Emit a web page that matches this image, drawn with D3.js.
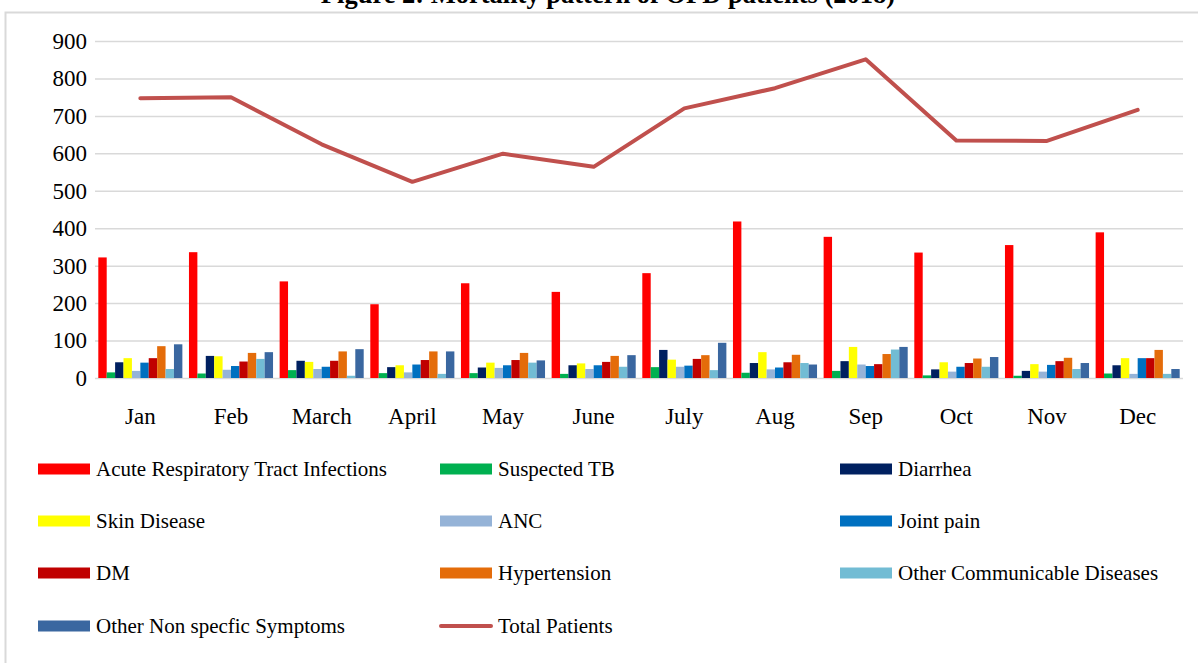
<!DOCTYPE html>
<html>
<head>
<meta charset="utf-8">
<script src="https://cdn.jsdelivr.net/npm/d3@7"></script>
<style>
  html, body { margin: 0; padding: 0; background: #fff; }
  svg { display: block; font-family: "Liberation Serif", "Times New Roman", serif; }
</style>
</head>
<body>
<svg id="chart" width="1198" height="663"></svg>
<script>
// months and series
let months = ["Jan", "Feb", "March", "April", "May", "June", "July", "Aug", "Sep", "Oct", "Nov", "Dec"];
let seriesNames = ["Acute Respiratory Tract Infections", "Suspected TB", "Diarrhea", "Skin Disease", "ANC",
    "Joint pain", "DM", "Hypertension", "Other Communicable Diseases", "Other Non specfic Symptoms"];
let seriesColors = ["#ff0000", "#00b050", "#002060", "#ffff00", "#95b3d7",
    "#0070c0", "#c00000", "#e46c0a", "#72bcd4", "#3a67a0"];

let ari      = [322, 336, 258, 197, 253, 230, 280, 418, 377, 335, 355, 389];
let tb       = [15, 12, 21, 13, 13, 11, 29, 14, 19, 7, 6, 12];
let diarrhea = [42, 59, 46, 29, 28, 34, 75, 40, 45, 23, 19, 34];
let skin     = [53, 58, 43, 34, 41, 39, 49, 69, 83, 42, 37, 53];
let anc      = [19, 22, 24, 15, 27, 24, 30, 23, 36, 17, 17, 11];
let joint    = [41, 32, 30, 36, 34, 34, 33, 28, 32, 30, 35, 53];
let dm       = [53, 44, 46, 48, 48, 43, 51, 42, 37, 40, 45, 53];
let htn      = [85, 67, 71, 71, 67, 59, 61, 62, 64, 52, 54, 75];
let ocd      = [24, 51, 6, 11, 41, 30, 21, 40, 76, 30, 24, 11];
let ons      = [90, 69, 77, 71, 47, 61, 94, 36, 83, 56, 40, 24];
let total    = [747, 750, 624, 524, 599, 564, 720, 774, 851, 634, 633, 716];

let yTicks = [0, 100, 200, 300, 400, 500, 600, 700, 800, 900];
let title = "Figure 2: Mortality pattern of OPD patients (2018)";
let lineName = "Total Patients", lineColor = "#c0504d";

let seriesValues = [ari, tb, diarrhea, skin, anc, joint, dm, htn, ocd, ons];

let svg = d3.select("#chart");
let plotLeft = 95, plotRight = 1183, plotTop = 41, plotBottom = 378;

// chart frame
svg.append("rect")
    .attr("x", 5.5).attr("y", 12.5)
    .attr("width", 1220).attr("height", 700)
    .attr("fill", "none")
    .attr("stroke", "#d9d9d9")
    .attr("stroke-width", 2);

// title sits mostly above the page edge, as in the source
svg.append("text")
    .attr("x", 608).attr("y", 3)
    .attr("text-anchor", "middle")
    .style("font-weight", "bold")
    .style("font-size", "26.5px")
    .text(title);

let x0 = d3.scaleBand().domain(months).range([plotLeft, plotRight]);
let x1 = d3.scaleBand().domain(d3.range(seriesNames.length))
    .range([3.3, x0.bandwidth() - 3.3]);
let y = d3.scaleLinear().domain([0, 900]).range([plotBottom, plotTop]);

// gridlines + y labels
let yAxis = svg.append("g")
    .attr("transform", "translate(" + plotLeft + ",0)")
    .call(d3.axisLeft(y).tickValues(yTicks).tickSize(-(plotRight - plotLeft)).tickPadding(8))
    .attr("font-family", null)
    .attr("font-size", null);
yAxis.select(".domain").remove();
yAxis.selectAll("line").attr("stroke", "#d9d9d9").attr("stroke-width", 1.5);
yAxis.selectAll("text").style("font-size", "23px").attr("fill", "#000");

let xAxis = svg.append("g")
    .attr("transform", "translate(0," + plotBottom + ")")
    .call(d3.axisBottom(x0).tickSize(0).tickPadding(30))
    .attr("font-family", null)
    .attr("font-size", null);
xAxis.select(".domain").remove();
xAxis.selectAll("text").style("font-size", "23px").attr("fill", "#000");

// bars
let groups = svg.append("g").selectAll("g")
    .data(months)
    .join("g")
    .attr("transform", d => "translate(" + x0(d) + ",0)");

groups.selectAll("rect")
    .data((m, i) => seriesValues.map((vals, s) => ({s: s, v: vals[i]})))
    .join("rect")
    .attr("x", d => x1(d.s))
    .attr("width", x1.bandwidth())
    .attr("y", d => y(d.v))
    .attr("height", d => y(0) - y(d.v))
    .attr("fill", d => seriesColors[d.s]);

// total patients line
let line = d3.line()
    .x((d, i) => x0(months[i]) + x0.bandwidth() / 2)
    .y(d => y(d));

svg.append("path")
    .datum(total)
    .attr("d", line)
    .attr("fill", "none")
    .attr("stroke", lineColor)
    .attr("stroke-width", 4)
    .attr("stroke-linecap", "round")
    .attr("stroke-linejoin", "round");

// legend, 3 columns
let colX = [38, 440, 840], rowY = [469, 521, 573, 626];
let legendItems = seriesNames.map((n, i) => ({name: n, color: seriesColors[i], type: "bar"}));
legendItems.push({name: lineName, color: lineColor, type: "line"});

let legend = svg.append("g").selectAll("g")
    .data(legendItems)
    .join("g")
    .attr("transform", (d, i) => "translate(" + colX[i % 3] + "," + rowY[Math.floor(i / 3)] + ")");

legend.filter(d => d.type == "bar").append("rect")
    .attr("x", 0).attr("y", -5.5)
    .attr("width", 52).attr("height", 11)
    .attr("fill", d => d.color);

legend.filter(d => d.type == "line").append("line")
    .attr("x1", 1).attr("x2", 51)
    .attr("y1", 0).attr("y2", 0)
    .attr("stroke", d => d.color)
    .attr("stroke-width", 4)
    .attr("stroke-linecap", "round");

legend.append("text")
    .attr("x", 58)
    .attr("dy", "0.35em")
    .style("font-size", "21px")
    .text(d => d.name);
</script>
</body>
</html>
